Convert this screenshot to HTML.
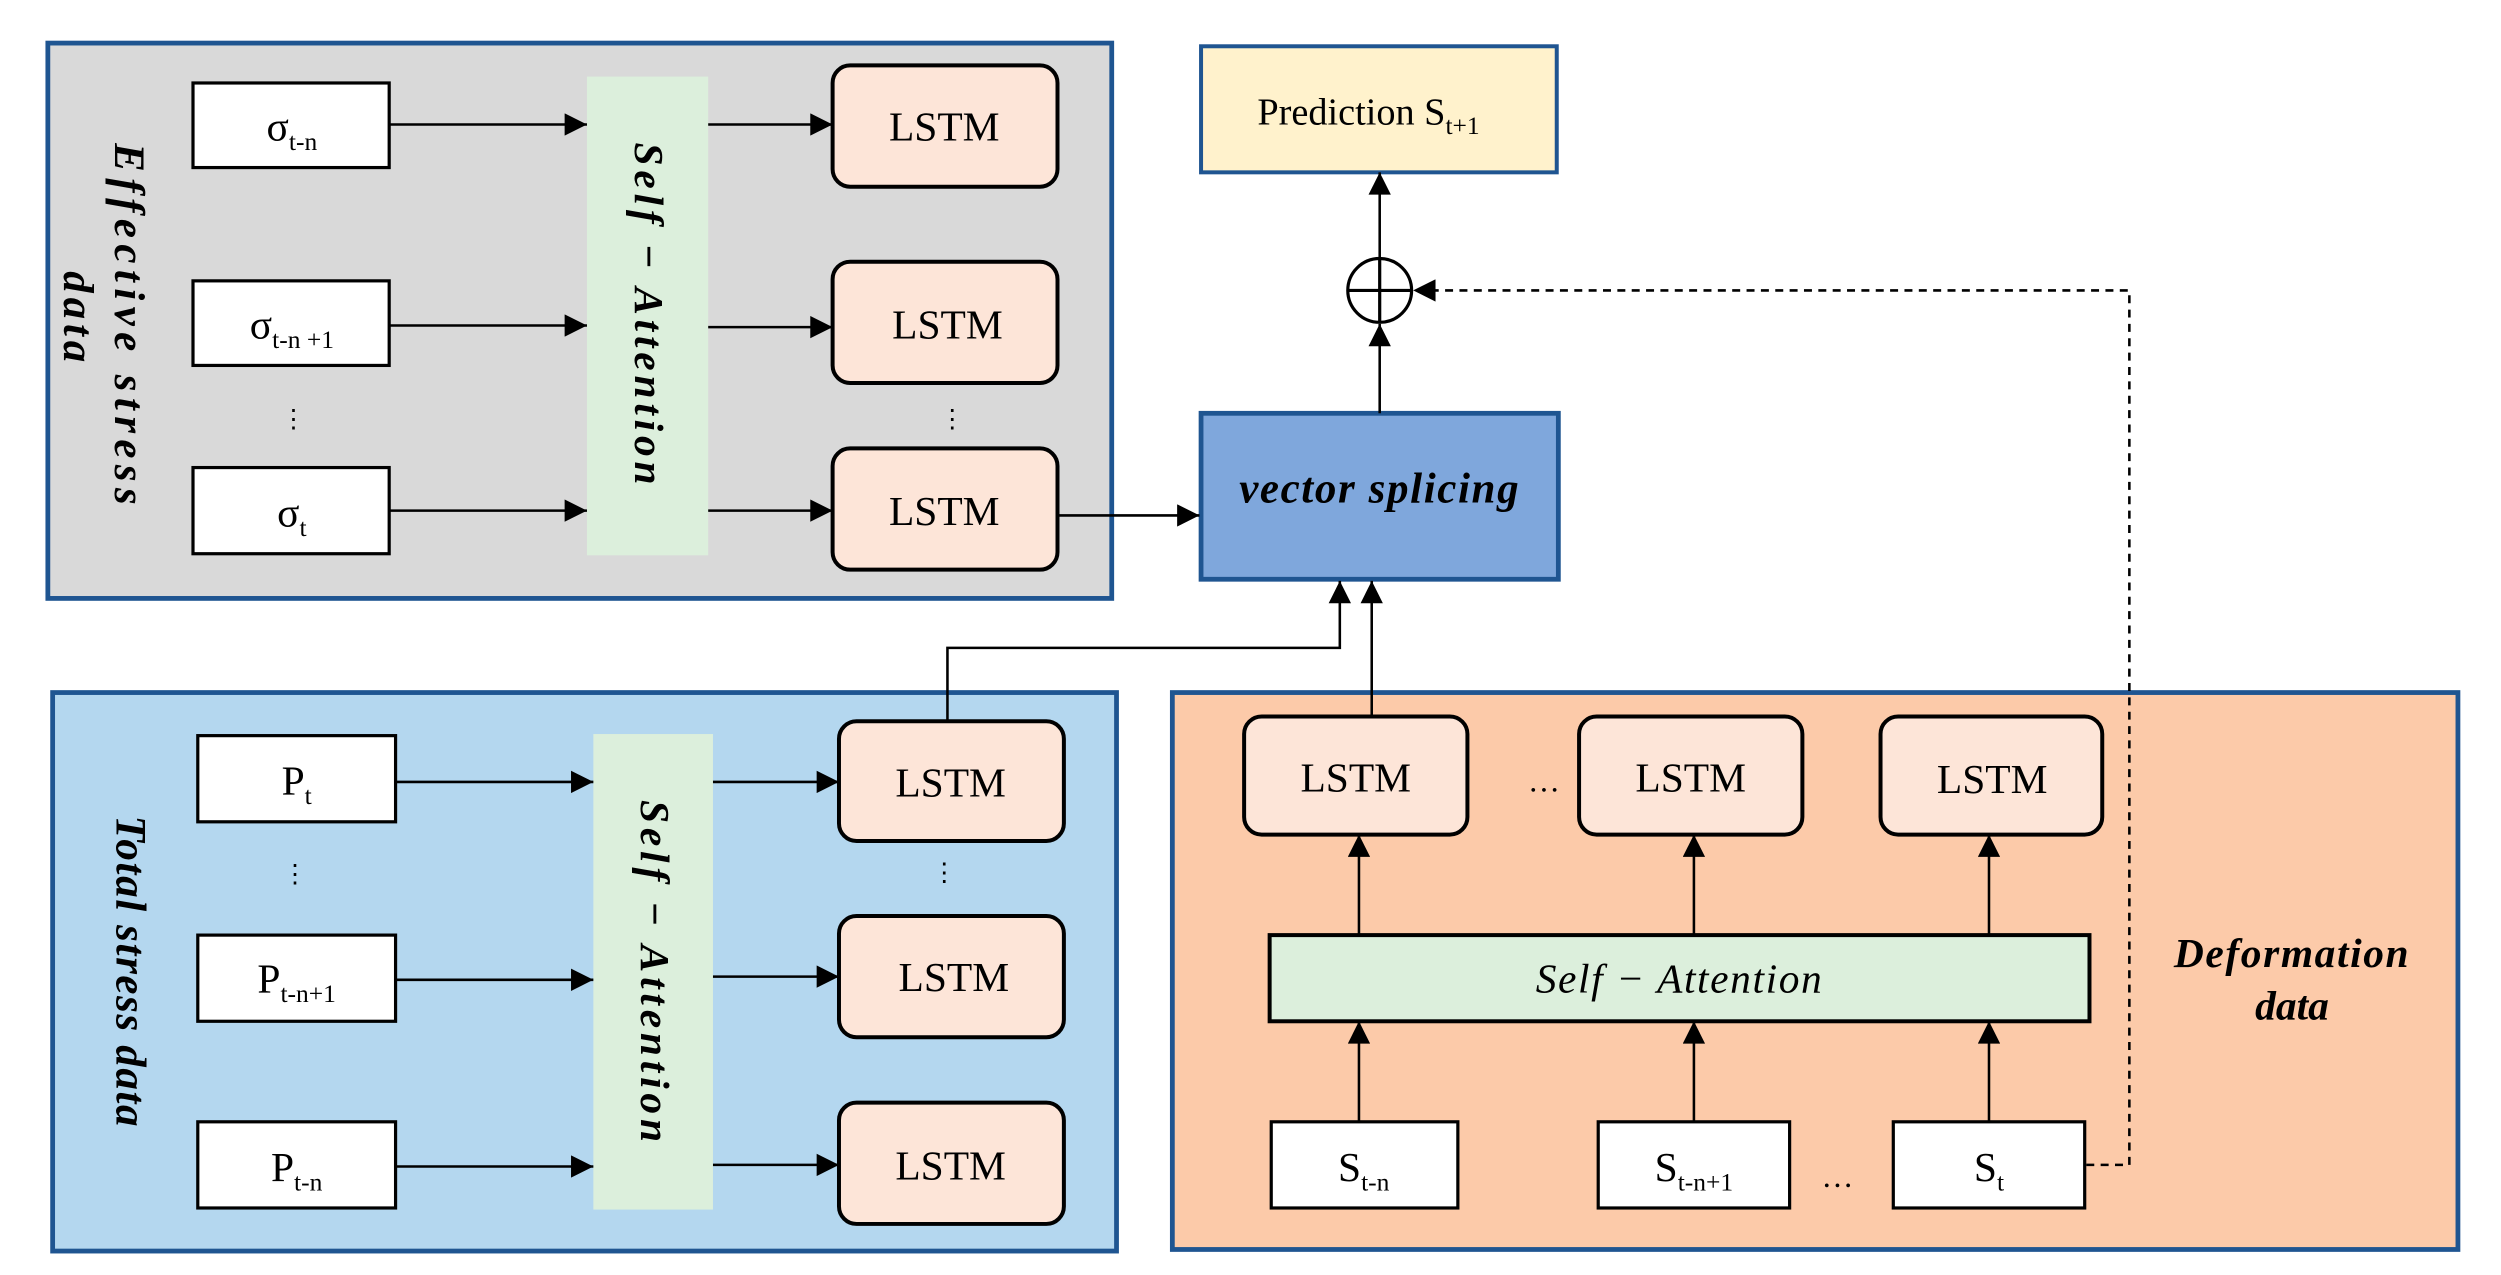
<!DOCTYPE html>
<html><head><meta charset="utf-8"><style>
html,body{margin:0;padding:0;background:#fff;}
svg{display:block;}
</style></head><body>
<svg width="2501" height="1275" viewBox="0 0 1568 799" preserveAspectRatio="none" xmlns="http://www.w3.org/2000/svg" font-family="'Liberation Serif', 'DejaVu Serif', serif">
<defs>
<marker id="b" viewBox="0 0 10 10" refX="10" refY="5" markerWidth="18" markerHeight="14" markerUnits="userSpaceOnUse" orient="auto"><path d="M0,0 L10,5 L0,10 z" fill="#000"/></marker>
</defs>
<rect x="30" y="27" width="667" height="348" fill="#d9d9d9" stroke="#1f5591" stroke-width="3"/>
<rect x="33" y="434" width="667" height="350" fill="#b4d7ef" stroke="#1f5591" stroke-width="3"/>
<rect x="735" y="434" width="806" height="349" fill="#fccaa9" stroke="#1f5591" stroke-width="3"/>
<g stroke="#000" stroke-width="2" fill="#fff">
<rect x="121" y="52" width="123" height="53"/>
<rect x="121" y="176" width="123" height="53"/>
<rect x="121" y="293" width="123" height="54"/>
<rect x="124" y="461" width="124" height="54"/>
<rect x="124" y="586" width="124" height="54"/>
<rect x="124" y="703" width="124" height="54"/>
<rect x="797" y="703" width="117" height="54"/>
<rect x="1002" y="703" width="120" height="54"/>
<rect x="1187" y="703" width="120" height="54"/>
</g>
<rect x="368" y="48" width="76" height="300" fill="#dcefdc"/>
<rect x="372" y="460" width="75" height="298" fill="#dcefdc"/>
<rect x="796" y="586" width="514" height="54" fill="#dcefdc" stroke="#000" stroke-width="2.5"/>
<g stroke="#000" stroke-width="2.5" fill="#fde5d8">
<rect x="522" y="41" width="141" height="76" rx="11"/>
<rect x="522" y="164" width="141" height="76" rx="11"/>
<rect x="522" y="281" width="141" height="76" rx="11"/>
<rect x="526" y="452" width="141" height="75" rx="11"/>
<rect x="526" y="574" width="141" height="76" rx="11"/>
<rect x="526" y="691" width="141" height="76" rx="11"/>
<rect x="780" y="449" width="140" height="74" rx="11"/>
<rect x="990" y="449" width="140" height="74" rx="11"/>
<rect x="1179" y="449" width="139" height="74" rx="11"/>
</g>
<rect x="753" y="29" width="223" height="79" fill="#fff2cc" stroke="#1f5591" stroke-width="2.5"/>
<rect x="753" y="259" width="224" height="104" fill="#7fa7dc" stroke="#1f5591" stroke-width="3"/>
<g stroke="#000" stroke-width="1.6" fill="none" marker-end="url(#b)">
<line x1="244" y1="78" x2="368" y2="78"/>
<line x1="244" y1="204" x2="368" y2="204"/>
<line x1="244" y1="320" x2="368" y2="320"/>
<line x1="444" y1="78" x2="522" y2="78"/>
<line x1="444" y1="205" x2="522" y2="205"/>
<line x1="444" y1="320" x2="522" y2="320"/>
<line x1="248" y1="490" x2="372" y2="490"/>
<line x1="248" y1="614" x2="372" y2="614"/>
<line x1="248" y1="731" x2="372" y2="731"/>
<line x1="447" y1="490" x2="526" y2="490"/>
<line x1="447" y1="612" x2="526" y2="612"/>
<line x1="447" y1="730" x2="526" y2="730"/>
<line x1="663" y1="323" x2="752" y2="323"/>
<polyline points="594,452 594,406 840,406 840,364"/>
<line x1="860" y1="449" x2="860" y2="364"/>
<line x1="865" y1="259" x2="865" y2="203"/>
<line x1="865" y1="162" x2="865" y2="108"/>
<line x1="852" y1="586" x2="852" y2="523"/>
<line x1="1062" y1="586" x2="1062" y2="523"/>
<line x1="1247" y1="586" x2="1247" y2="523"/>
<line x1="852" y1="703" x2="852" y2="640"/>
<line x1="1062" y1="703" x2="1062" y2="640"/>
<line x1="1247" y1="703" x2="1247" y2="640"/>
<polyline points="1308,730 1335,730 1335,182 886,182" stroke-dasharray="5,4"/>
</g>
<circle cx="865" cy="182" r="20" fill="#fff" stroke="#000" stroke-width="2"/>
<line x1="845" y1="182" x2="885" y2="182" stroke="#000" stroke-width="2"/>
<line x1="865" y1="162" x2="865" y2="202" stroke="#000" stroke-width="2"/>
<g font-size="26" text-anchor="middle" fill="#000">
<g font-family="'Liberation Serif', serif">
<text x="592" y="88">LSTM</text><text x="594" y="212">LSTM</text><text x="592" y="329">LSTM</text>
<text x="596" y="499">LSTM</text><text x="598" y="621">LSTM</text><text x="596" y="739">LSTM</text>
<text x="850" y="496">LSTM</text><text x="1060" y="496">LSTM</text><text x="1249" y="497">LSTM</text>
</g>
<text x="183" y="88">σ<tspan font-size="16" dy="6">t-n</tspan></text>
<text x="183" y="212">σ<tspan font-size="16" dy="6">t-n +1</tspan></text>
<text x="183" y="330">σ<tspan font-size="16" dy="6">t</tspan></text>
<text x="186" y="498">P<tspan font-size="16" dy="6">t</tspan></text>
<text x="186" y="622">P<tspan font-size="16" dy="6">t-n+1</tspan></text>
<text x="186" y="740">P<tspan font-size="16" dy="6">t-n</tspan></text>
<text x="855" y="740">S<tspan font-size="16" dy="6">t-n</tspan></text>
<text x="1062" y="740">S<tspan font-size="16" dy="6">t-n+1</tspan></text>
<text x="1247" y="740">S<tspan font-size="16" dy="6">t</tspan></text>
<text x="858" y="78" font-size="24">Prediction S<tspan font-size="16" dy="6">t+1</tspan></text>
<text x="968" y="496" font-size="20">…</text>
<text x="1152" y="744" font-size="20">…</text>
<text x="865" y="315" font-size="27" font-weight="bold" font-style="italic" letter-spacing="1">vector splicing</text>
<text x="1053" y="622" font-size="26" font-style="italic" letter-spacing="1">Self − Attention</text>
<text x="1437" y="606" font-size="26" font-weight="bold" font-style="italic" letter-spacing="1">Deformation</text>
<text x="1437" y="639" font-size="26" font-weight="bold" font-style="italic">data</text>
<text font-size="16" x="184" y="268">⋮</text>
<text font-size="16" x="597" y="268">⋮</text>
<text font-size="16" x="185" y="553">⋮</text>
<text font-size="16" x="592" y="552">⋮</text>
<text transform="translate(398,198) rotate(90)" font-size="26" font-style="italic" font-weight="bold" letter-spacing="3">Self − Attention</text>
<text transform="translate(402,610) rotate(90)" font-size="26" font-style="italic" font-weight="bold" letter-spacing="3">Self − Attention</text>
<text transform="translate(72,205) rotate(90)" font-size="27" font-weight="bold" font-style="italic" letter-spacing="4">Effective  stress</text>
<text transform="translate(40,200) rotate(90)" font-size="27" font-weight="bold" font-style="italic" letter-spacing="3">data</text>
<text transform="translate(73,609) rotate(90)" font-size="27" font-weight="bold" font-style="italic" letter-spacing="1">Total stress data</text>
</g>
</svg>
</body></html>
